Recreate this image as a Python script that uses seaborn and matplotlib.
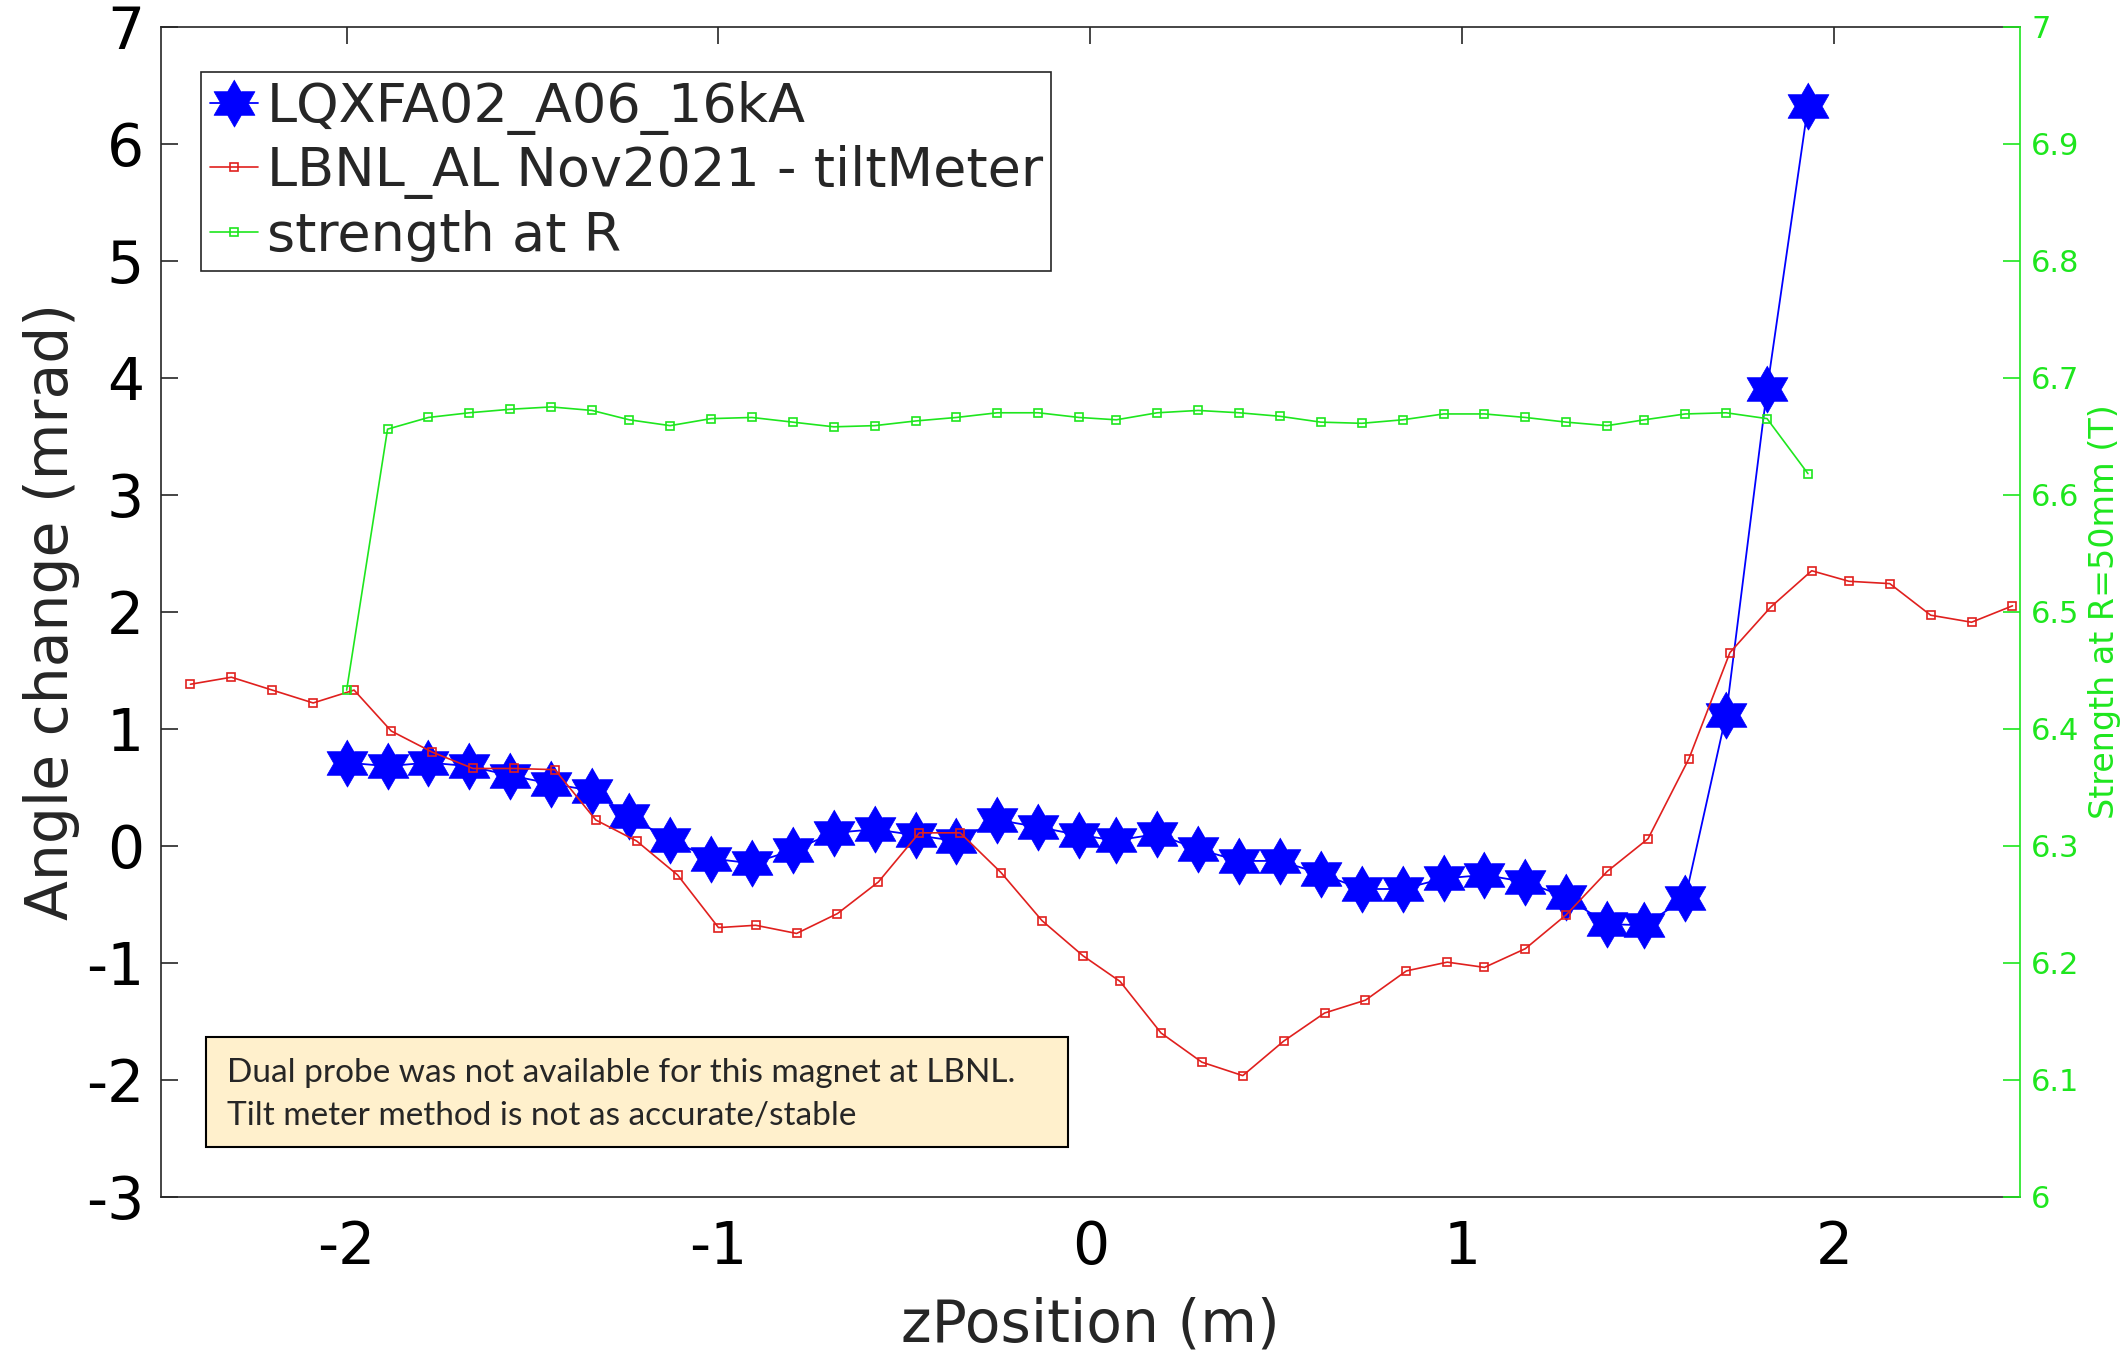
import numpy as np
import matplotlib
matplotlib.use("Agg")
import matplotlib.pyplot as plt
from matplotlib.path import Path
from matplotlib.patches import Rectangle
import seaborn as sns

# LQXFA02_A06_16kA : angle change (mrad) vs z
z_meas = [-2.00, -1.89, -1.78, -1.67, -1.56, -1.45, -1.34, -1.24, -1.13, -1.02,
          -0.91, -0.80, -0.69, -0.58, -0.47, -0.36, -0.25, -0.14, -0.03, 0.07,
          0.18, 0.29, 0.40, 0.51, 0.62, 0.73, 0.84, 0.95, 1.06, 1.17,
          1.28, 1.39, 1.49, 1.60, 1.71, 1.82, 1.93]
angle_meas = [0.71, 0.68, 0.71, 0.68, 0.60, 0.53, 0.47, 0.25, 0.05, -0.11,
              -0.15, -0.04, 0.11, 0.14, 0.09, 0.04, 0.22, 0.16, 0.09, 0.045,
              0.10, -0.03, -0.13, -0.13, -0.24, -0.37, -0.37, -0.28, -0.25, -0.31,
              -0.44, -0.67, -0.68, -0.45, 1.12, 3.90, 6.32]

# strength at R=50mm (T), right axis
strength = [6.433, 6.656, 6.666, 6.670, 6.673, 6.675, 6.672, 6.664, 6.659, 6.665,
            6.666, 6.662, 6.658, 6.659, 6.663, 6.666, 6.670, 6.670, 6.666, 6.664,
            6.670, 6.672, 6.670, 6.667, 6.662, 6.661, 6.664, 6.669, 6.669, 6.666,
            6.662, 6.659, 6.664, 6.669, 6.670, 6.665, 6.618]

# LBNL_AL Nov2021 - tiltMeter
z_lbnl = [-2.42, -2.31, -2.20, -2.09, -1.98, -1.88, -1.77, -1.66, -1.55, -1.44,
          -1.33, -1.22, -1.11, -1.00, -0.90, -0.79, -0.68, -0.57, -0.46, -0.35,
          -0.24, -0.13, -0.02, 0.08, 0.19, 0.30, 0.41, 0.52, 0.63, 0.74,
          0.85, 0.96, 1.06, 1.17, 1.28, 1.39, 1.50, 1.61, 1.72, 1.83,
          1.94, 2.04, 2.15, 2.26, 2.37, 2.48]
angle_lbnl = [1.38, 1.44, 1.33, 1.22, 1.33, 0.98, 0.80, 0.66, 0.66, 0.65,
              0.22, 0.04, -0.25, -0.70, -0.68, -0.75, -0.58, -0.31, 0.11, 0.11,
              -0.23, -0.64, -0.94, -1.16, -1.60, -1.85, -1.965, -1.67, -1.43, -1.32,
              -1.07, -0.995, -1.04, -0.88, -0.59, -0.22, 0.06, 0.745, 1.65, 2.04,
              2.35, 2.26, 2.24, 1.97, 1.91, 2.05]

x_ticks = [-2, -1, 0, 1, 2]
y_ticks = list(range(-3, 8))
y2_ticks = [6.0, 6.1, 6.2, 6.3, 6.4, 6.5, 6.6, 6.7, 6.8, 6.9, 7.0]
y2_labels = ["6", "6.1", "6.2", "6.3", "6.4", "6.5", "6.6", "6.7", "6.8", "6.9", "7"]

BLUE = "#0000FF"
RED = "#E0201E"
GREEN = "#1EE61E"
AXC = "#262626"

sns.set_style("white")
plt.rcParams["font.family"] = ["DejaVu Sans"]

# hexagram marker (matlab style)
ang = np.deg2rad(np.arange(12) * 30 + 90)
rad = np.where(np.arange(12) % 2 == 0, 1.0, 1 / np.sqrt(3))
hexagram = Path(np.column_stack([rad * np.cos(ang), rad * np.sin(ang)]))

fig = plt.figure(figsize=(21.26, 13.53), dpi=100)
ax = fig.add_axes([0.0756, 0.1155, 0.8745, 0.8648])
ax2 = ax.twinx()

sns.lineplot(x=z_meas, y=angle_meas, ax=ax, color=BLUE, lw=1.3, marker=hexagram,
             markersize=34, markerfacecolor=BLUE, markeredgecolor=BLUE,
             markeredgewidth=0.5, label="LQXFA02_A06_16kA", legend=False)
sns.lineplot(x=z_lbnl, y=angle_lbnl, ax=ax, color=RED, lw=1.2, marker="s",
             markersize=5.5, markerfacecolor="none", markeredgecolor=RED,
             markeredgewidth=1.2, label="LBNL_AL Nov2021 - tiltMeter", legend=False)
sns.lineplot(x=z_meas, y=strength, ax=ax2, color=GREEN, lw=1.2, marker="s",
             markersize=5.5, markerfacecolor="none", markeredgecolor=GREEN,
             markeredgewidth=1.2, label="strength at R", legend=False)

ax.set_xlim(-2.5, 2.5)
ax.set_ylim(-3, 7)
ax2.set_ylim(6, 7)
ax.set_xticks(x_ticks)
ax.set_xticklabels([str(t) for t in x_ticks])
ax.set_yticks(y_ticks)
ax.set_yticklabels([str(t) for t in y_ticks])
ax2.set_yticks(y2_ticks)
ax2.set_yticklabels(y2_labels)

ax.tick_params(axis="both", direction="in", length=12, width=1.2, color=AXC,
               labelsize=42, labelcolor="black")
ax.tick_params(axis="x", top=True, pad=16)
ax.tick_params(axis="y", pad=12)
ax2.tick_params(axis="y", direction="in", length=12, width=1.2, color=GREEN,
                labelsize=22, labelcolor=GREEN, pad=8)

for s in ["left", "bottom", "top"]:
    ax.spines[s].set_color(AXC)
    ax.spines[s].set_linewidth(1.2)
for s in ["left", "bottom", "top"]:
    ax2.spines[s].set_visible(False)
ax2.spines["right"].set_color(GREEN)
ax2.spines["right"].set_linewidth(1.2)
ax.spines["right"].set_visible(False)

ax.set_xlabel("zPosition (m)", fontsize=42, labelpad=15)
ax.set_ylabel("Angle change (mrad)", fontsize=42, labelpad=4)
ax2.set_ylabel("Strength at R=50mm (T)", fontsize=24, color=GREEN, labelpad=6)

h1, l1 = ax.get_legend_handles_labels()
h2, l2 = ax2.get_legend_handles_labels()
leg = ax2.legend(h1 + h2, l1 + l2, loc="upper left", bbox_to_anchor=(0.0217, 0.9613),
                 borderaxespad=0, fontsize=39, frameon=True, fancybox=False,
                 edgecolor=AXC, framealpha=1, borderpad=0.16, labelspacing=0.2,
                 handlelength=0.9, handletextpad=0.15)
leg.get_frame().set_linewidth(1.2)

# note box
ax2.add_patch(Rectangle((0.0244, 0.0425), 0.4636, 0.0940, transform=ax2.transAxes,
                        facecolor="#FFF0CC", edgecolor="black", lw=1.5, zorder=6))
note_font = ["Lato", "DejaVu Sans"]
ax2.text(0.0355, 0.0983, "Dual probe was not available for this magnet at LBNL.",
         transform=ax2.transAxes, fontsize=24, family=note_font, va="baseline",
         ha="left", zorder=7)
ax2.text(0.0355, 0.0613, "Tilt meter method is not as accurate/stable",
         transform=ax2.transAxes, fontsize=24, family=note_font, va="baseline",
         ha="left", zorder=7)

fig.savefig("out.png", dpi=100)
